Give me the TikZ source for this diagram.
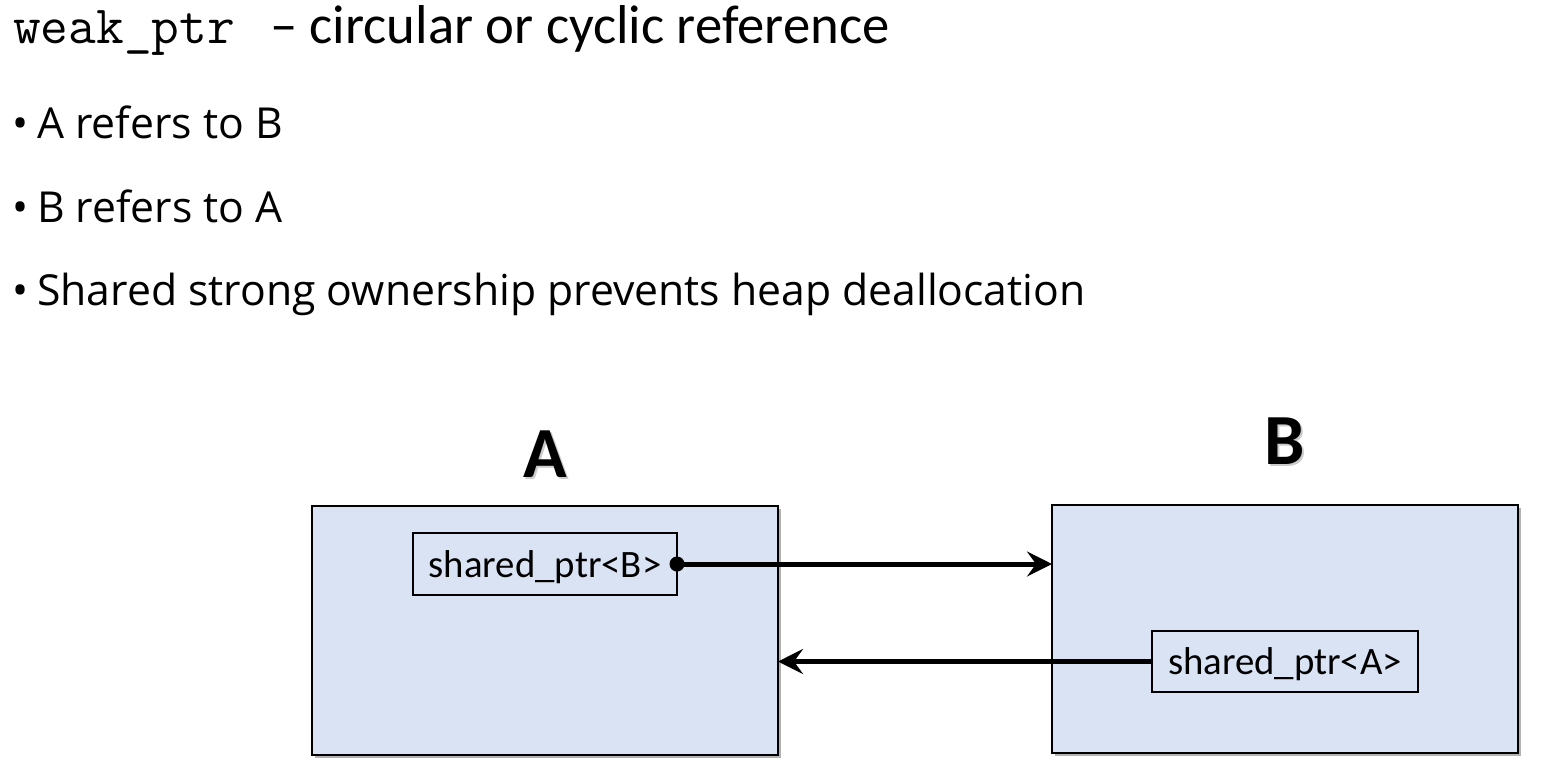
\documentclass[tikz,border=0pt]{standalone}
\usepackage{fontspec}
\setmainfont{Carlito}
\newfontfamily\bulletfont{Open Sans}
\usetikzlibrary{arrows.meta,shadows}
\definecolor{boxfill}{HTML}{DAE3F3}
\tikzset{
  outerbox/.style={draw=black, line width=2pt, fill=boxfill, inner sep=0pt, outer sep=0pt,
    minimum width=466pt, minimum height=249pt,
    drop shadow={shadow xshift=3pt, shadow yshift=-3pt, opacity=0.3, fill=black}},
  innerbox/.style={draw=black, line width=1.5pt, fill=boxfill, inner sep=0pt, outer sep=0pt,
    minimum width=264pt, minimum height=62pt, text height=29.5pt, text depth=3.5pt,
    font=\fontsize{38.8}{42}\selectfont},
  biglabel/.style={inner sep=0pt, anchor=base, font=\bfseries\fontsize{72}{76}\selectfont},
  bullettext/.style={inner sep=0pt, anchor=base west, font=\bulletfont\fontsize{42.7}{46}\selectfont},
  arr/.style={line width=5pt, -{Stealth[length=25pt, width=25pt, inset=9pt]}},
}
\begin{document}
\begin{tikzpicture}[x=1pt,y=-1pt]
\useasboundingbox (0,0) rectangle (1541,780);
% title
\node[inner sep=0pt, anchor=base west, font=\ttfamily\fontsize{53.8}{56}\selectfont] (tmono) at (13,43) {weak\_ptr};
\node[inner sep=0pt, anchor=base west, font=\fontsize{54.7}{58}\selectfont] (ttext) at (270,43) {– circular or cyclic reference};
% bullets
\node[bullettext] (b1) at (12,138) {•};
\node[bullettext] (t1) at (37,138) {A refers to B};
\node[bullettext] (b2) at (12,222) {•};
\node[bullettext] (t2) at (37,222) {B refers to A};
\node[bullettext] (b3) at (12,305) {•};
\node[bullettext] (t3) at (37,305) {Shared strong ownership prevents heap deallocation};
% boxes
\node[outerbox] (boxA) at (545,630.5) {};
\node[outerbox, minimum height=248pt] (boxB) at (1285,629) {};
\node[innerbox] (inA) at (545,564) {shared\_ptr<B>};
\node[innerbox, minimum width=266pt, minimum height=61pt] (inB) at (1285,661.5) {shared\_ptr<A>};
% labels with shadow
\node[biglabel, text=black!40, opacity=0.5] (labAs) at (547,479) {A};
\node[biglabel] (labA) at (545,477) {A};
\node[biglabel, text=black!40, opacity=0.5] (labBs) at (1287,466) {B};
\node[biglabel] (labB) at (1285,464) {B};
% connectors
\draw[arr] (inA.east) -- (inA.east -| boxB.west);
\fill (inA.east) circle (7.5pt);
\draw[arr] (inB.west) -- (inB.west -| boxA.east);
\end{tikzpicture}
\end{document}
